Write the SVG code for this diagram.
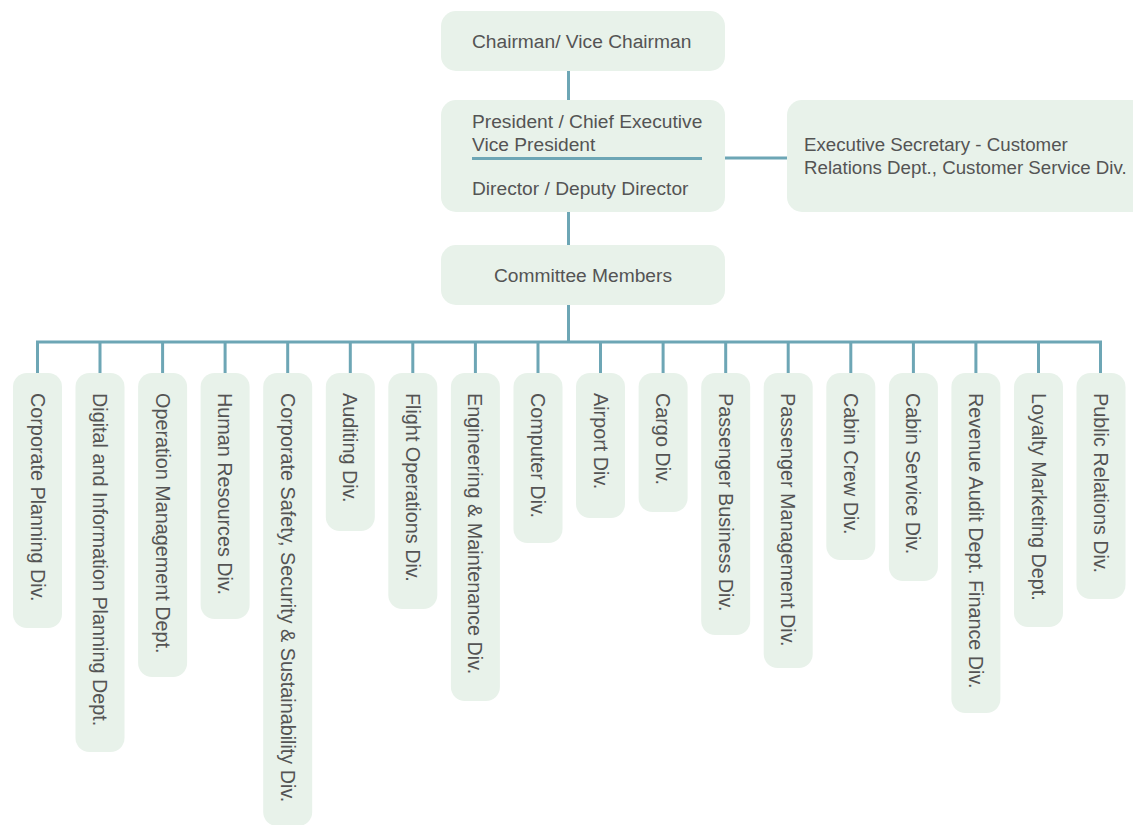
<svg xmlns="http://www.w3.org/2000/svg" width="1133" height="825" viewBox="0 0 1133 825">
<style>
.box{fill:#e8f2ea;}
.t{font-family:"Liberation Sans",Arial,sans-serif;font-size:19.2px;fill:#545454;}
.v{font-size:19.8px;}
.s{font-size:18.7px;}
.c{stroke:#6da6b5;stroke-width:3;fill:none;}
</style>
<rect width="1133" height="825" fill="#ffffff"/>
<g id="connectors">
<path class="c" d="M568.5 71V100M568.5 212V245M568.5 305V342M725 158H787"/>
<path class="c" d="M37.5 373V342H1100.5V373"/>
<path class="c" d="M100 342V373M162.6 342V373M225.1 342V373M287.7 342V373M350.3 342V373M412.8 342V373M475.4 342V373M538 342V373M600.5 342V373M663.1 342V373M725.7 342V373M788.2 342V373M850.8 342V373M913.4 342V373M975.9 342V373M1038.5 342V373"/>
</g>
<g id="chairman"><rect class="box" x="441" y="11" width="284" height="60" rx="15"/><text class="t" x="472" y="48">Chairman/ Vice Chairman</text></g>
<g id="president"><rect class="box" x="441" y="100" width="284" height="112" rx="15"/><line class="c" x1="472" y1="158.5" x2="702" y2="158.5"/><text class="t" x="472" y="128">President / Chief Executive</text><text class="t" x="472" y="151">Vice President</text><text class="t" x="472" y="195">Director / Deputy Director</text></g>
<g id="secretary"><rect class="box" x="787" y="100" width="370" height="112" rx="15"/><text class="t s" x="804" y="151">Executive Secretary - Customer</text><text class="t s" x="804" y="174">Relations Dept., Customer Service Div.</text></g>
<g id="committee"><rect class="box" x="441" y="245" width="284" height="60" rx="15"/><text class="t" x="583" y="282" text-anchor="middle">Committee Members</text></g>
<g id="n0"><rect class="box" x="13" y="373" width="49" height="255" rx="14"/><text class="t v" transform="translate(30.5,393) rotate(90)">Corporate Planning Div.</text></g>
<g id="n1"><rect class="box" x="75.5" y="373" width="49" height="379" rx="14"/><text class="t v" transform="translate(93,393) rotate(90)">Digital and Information Planning Dept.</text></g>
<g id="n2"><rect class="box" x="138.1" y="373" width="49" height="304" rx="14"/><text class="t v" transform="translate(155.6,393) rotate(90)">Operation Management Dept.</text></g>
<g id="n3"><rect class="box" x="200.6" y="373" width="49" height="246" rx="14"/><text class="t v" transform="translate(218.1,393) rotate(90)">Human Resources Div.</text></g>
<g id="n4"><rect class="box" x="263.2" y="373" width="49" height="453" rx="14"/><text class="t v" transform="translate(280.7,393) rotate(90)">Corporate Safety, Security &amp; Sustainability Div.</text></g>
<g id="n5"><rect class="box" x="325.8" y="373" width="49" height="158" rx="14"/><text class="t v" transform="translate(343.3,393) rotate(90)">Auditing Div.</text></g>
<g id="n6"><rect class="box" x="388.3" y="373" width="49" height="236" rx="14"/><text class="t v" transform="translate(405.8,393) rotate(90)">Flight Operations Div.</text></g>
<g id="n7"><rect class="box" x="450.9" y="373" width="49" height="328" rx="14"/><text class="t v" transform="translate(468.4,393) rotate(90)">Engineering &amp; Maintenance Div.</text></g>
<g id="n8"><rect class="box" x="513.5" y="373" width="49" height="170" rx="14"/><text class="t v" transform="translate(531,393) rotate(90)">Computer Div.</text></g>
<g id="n9"><rect class="box" x="576" y="373" width="49" height="145" rx="14"/><text class="t v" transform="translate(593.5,393) rotate(90)">Airport Div.</text></g>
<g id="n10"><rect class="box" x="638.6" y="373" width="49" height="139" rx="14"/><text class="t v" transform="translate(656.1,393) rotate(90)">Cargo Div.</text></g>
<g id="n11"><rect class="box" x="701.2" y="373" width="49" height="262" rx="14"/><text class="t v" transform="translate(718.7,393) rotate(90)">Passenger Business Div.</text></g>
<g id="n12"><rect class="box" x="763.7" y="373" width="49" height="295" rx="14"/><text class="t v" transform="translate(781.2,393) rotate(90)">Passenger Management Div.</text></g>
<g id="n13"><rect class="box" x="826.3" y="373" width="49" height="187" rx="14"/><text class="t v" transform="translate(843.8,393) rotate(90)">Cabin Crew Div.</text></g>
<g id="n14"><rect class="box" x="888.9" y="373" width="49" height="208" rx="14"/><text class="t v" transform="translate(906.4,393) rotate(90)">Cabin Service Div.</text></g>
<g id="n15"><rect class="box" x="951.4" y="373" width="49" height="340" rx="14"/><text class="t v" transform="translate(968.9,393) rotate(90)">Revenue Audit Dept. Finance Div.</text></g>
<g id="n16"><rect class="box" x="1014" y="373" width="49" height="254" rx="14"/><text class="t v" transform="translate(1031.5,393) rotate(90)">Loyalty Marketing Dept.</text></g>
<g id="n17"><rect class="box" x="1076.5" y="373" width="49" height="226" rx="14"/><text class="t v" transform="translate(1094,393) rotate(90)">Public Relations Div.</text></g>
</svg>
